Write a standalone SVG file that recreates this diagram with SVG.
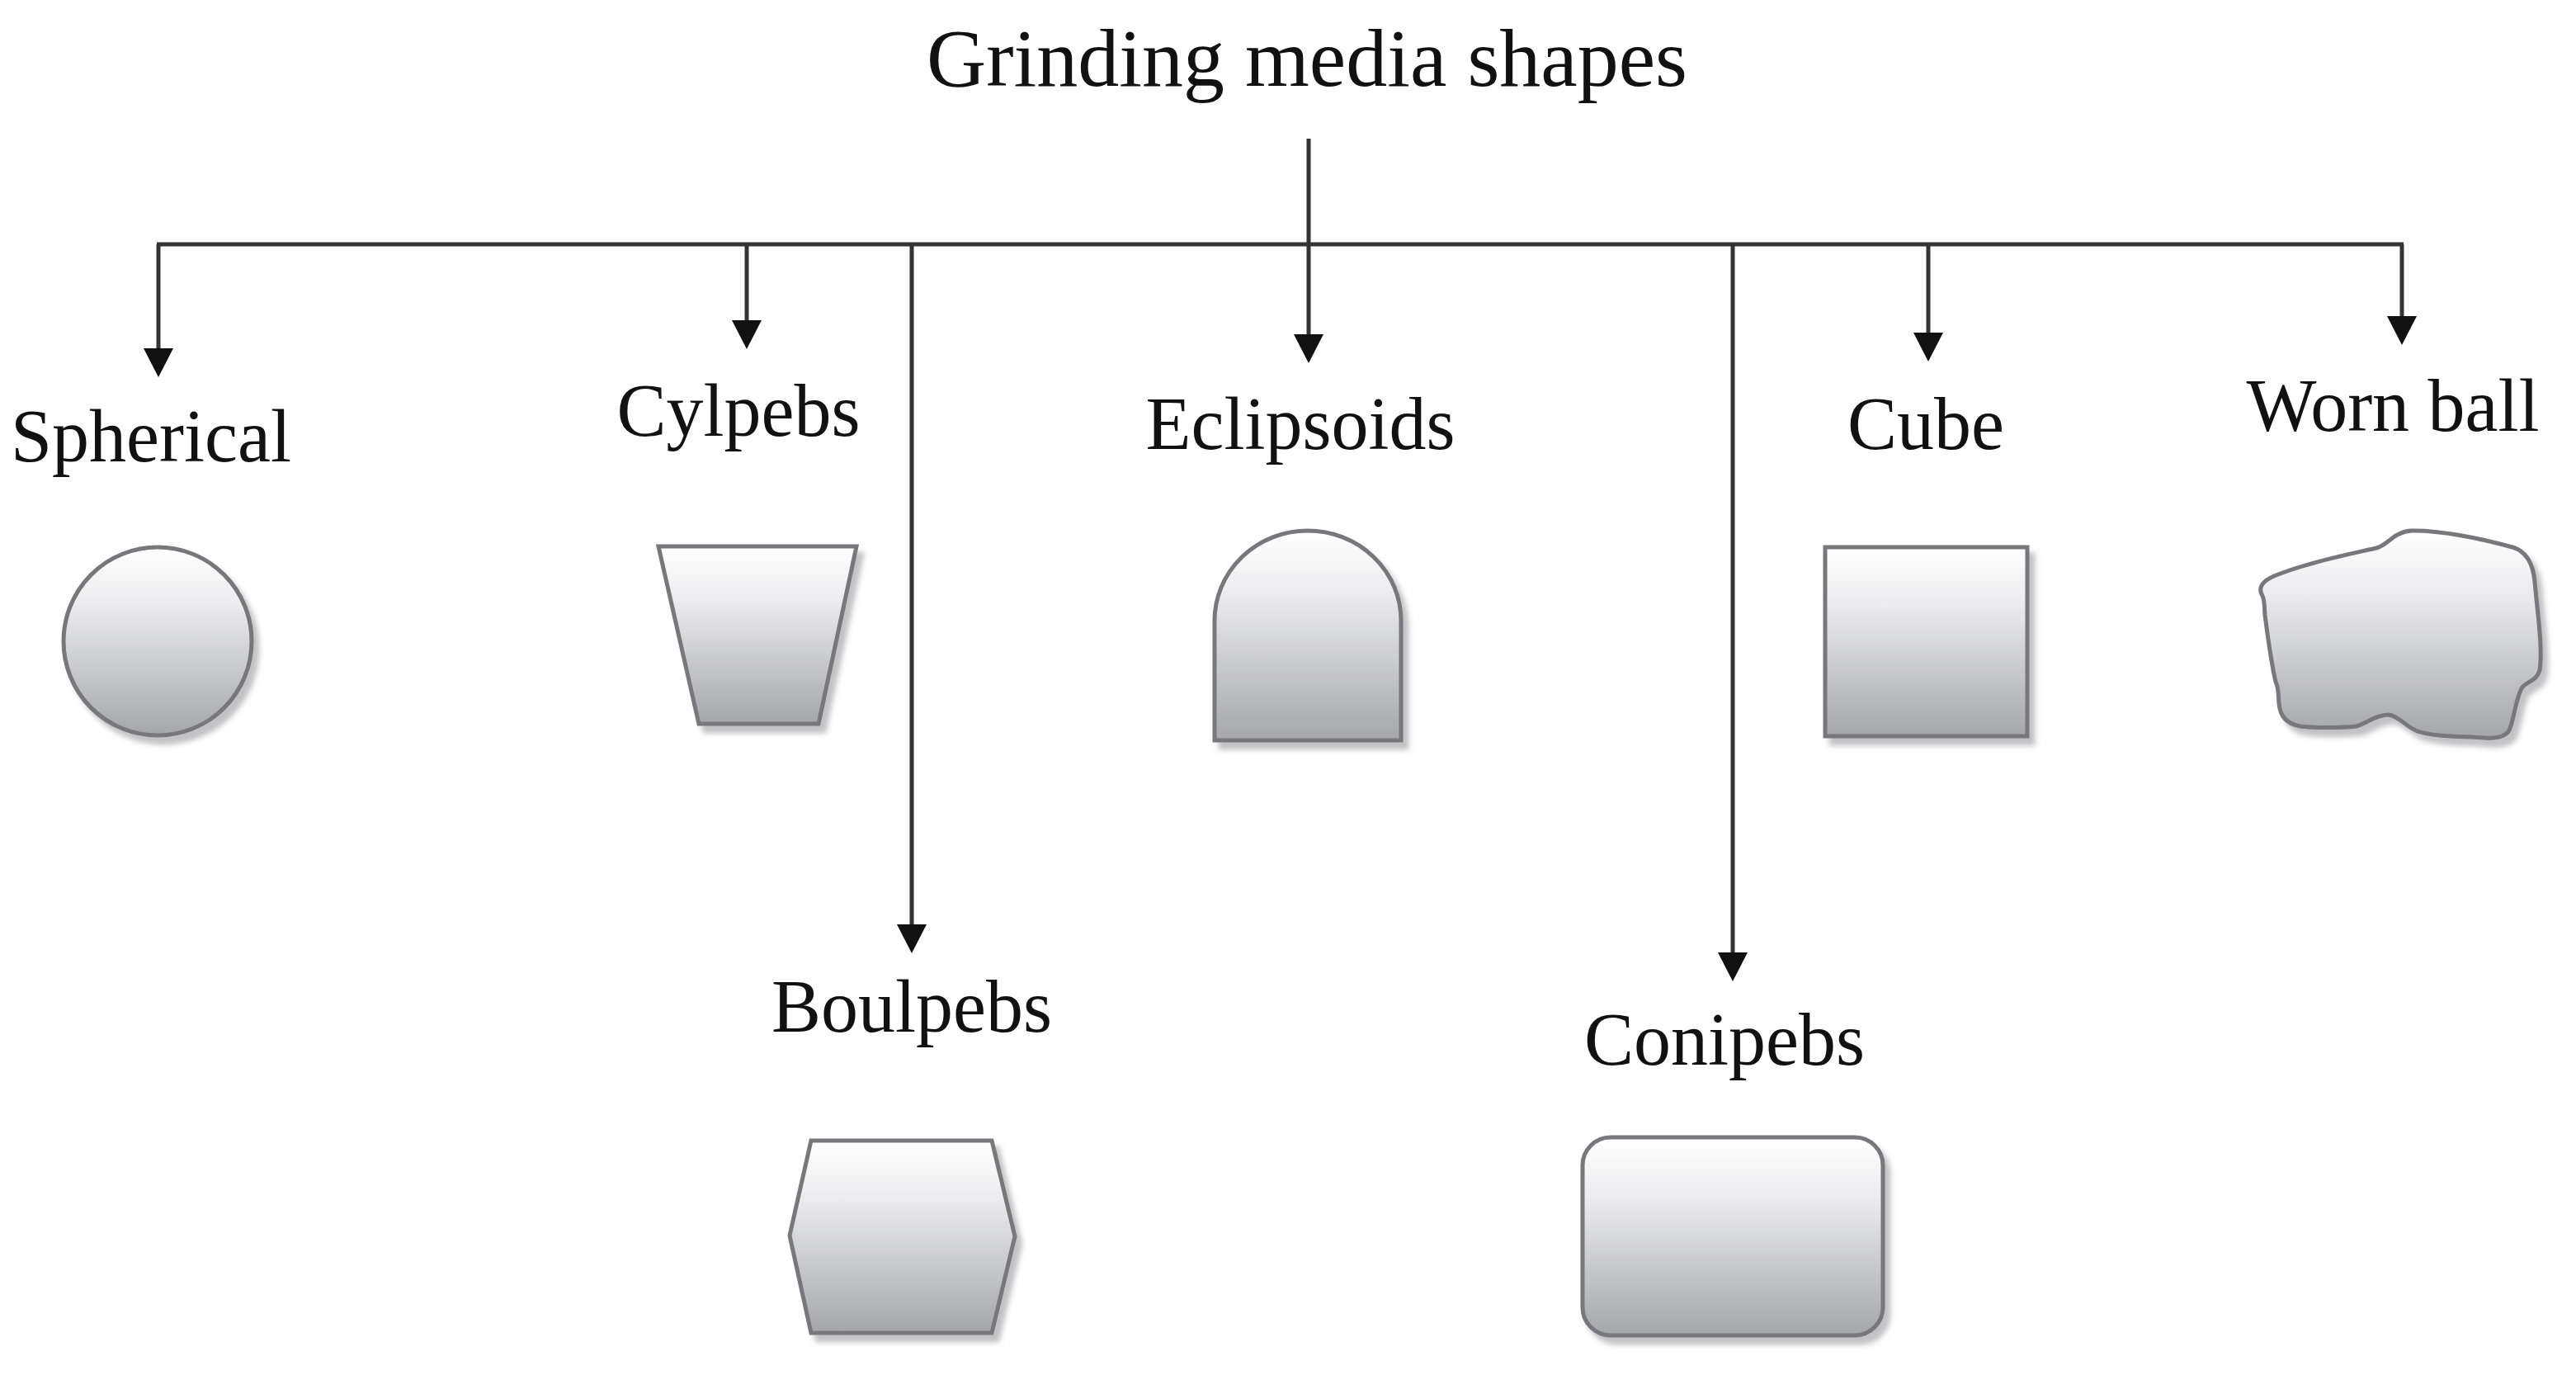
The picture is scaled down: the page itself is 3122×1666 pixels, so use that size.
<svg xmlns="http://www.w3.org/2000/svg" width="3122" height="1666" viewBox="0 0 3122 1666">
<style>
.lbl{font-family:"Liberation Serif","Times New Roman",serif;font-size:90px;fill:#111;text-anchor:middle}
.title{font-family:"Liberation Serif","Times New Roman",serif;font-size:100px;fill:#111;text-anchor:middle}
.conn{stroke:#333;stroke-width:5;fill:none}
.shape{fill:url(#grad);stroke:#77777c;stroke-width:5;filter:url(#shadow)}
</style>
<defs>
<linearGradient id="grad" x1="0" y1="0" x2="0" y2="1">
<stop offset="0" stop-color="#ffffff"/>
<stop offset="0.3" stop-color="#ececee"/>
<stop offset="1" stop-color="#a5a6aa"/>
</linearGradient>
<filter id="shadow" x="-20%" y="-20%" width="150%" height="150%">
<feDropShadow dx="7" dy="9" stdDeviation="3" flood-color="#9a9a9e" flood-opacity="0.6"/>
</filter>
</defs>
<rect width="3122" height="1666" fill="#ffffff"/>

<text class="title" x="1584" y="104">Grinding media shapes</text>

<g id="connectors">
<line class="conn" x1="1586" y1="168" x2="1586" y2="296"/>
<line class="conn" x1="190" y1="296" x2="2913" y2="296"/>
<line class="conn" x1="192" y1="296" x2="192" y2="422"/><path d="M174,422 L210,422 L192,457 Z" fill="#111"/>
<line class="conn" x1="905" y1="296" x2="905" y2="388"/><path d="M887,388 L923,388 L905,423 Z" fill="#111"/>
<line class="conn" x1="1105" y1="296" x2="1105" y2="1120"/><path d="M1087,1120 L1123,1120 L1105,1155 Z" fill="#111"/>
<line class="conn" x1="1586" y1="296" x2="1586" y2="405"/><path d="M1568,405 L1604,405 L1586,440 Z" fill="#111"/>
<line class="conn" x1="2100" y1="296" x2="2100" y2="1154"/><path d="M2082,1154 L2118,1154 L2100,1189 Z" fill="#111"/>
<line class="conn" x1="2337" y1="296" x2="2337" y2="403"/><path d="M2319,403 L2355,403 L2337,438 Z" fill="#111"/>
<line class="conn" x1="2911" y1="296" x2="2911" y2="383"/><path d="M2893,383 L2929,383 L2911,418 Z" fill="#111"/>
</g>

<g id="spherical">
<text class="lbl" x="183" y="559">Spherical</text>
<circle class="shape" cx="191" cy="777" r="114"/>
</g>

<g id="cylpebs">
<text class="lbl" x="895" y="528">Cylpebs</text>
<polygon class="shape" points="798,662 1038,662 992,877 847,877"/>
</g>

<g id="eclipsoids">
<text class="lbl" x="1576" y="544">Eclipsoids</text>
<path class="shape" d="M1472,897 L1472,752 A113,109 0 0 1 1698,752 L1698,897 Z"/>
</g>

<g id="cube">
<text class="lbl" x="2334" y="544">Cube</text>
<rect class="shape" x="2212" y="663" width="245" height="229"/>
</g>

<g id="worn-ball">
<text class="lbl" x="2900" y="522">Worn ball</text>
<path class="shape" d="M2742,722 C2736,712 2742,704 2756,698 C2795,682 2845,672 2880,664 C2895,660 2900,645 2922,643 C2955,642 3005,652 3045,663 C3062,668 3070,682 3072,705 C3075,740 3082,785 3078,812 C3074,826 3062,825 3056,834 C3048,850 3047,872 3041,885 C3036,893 3026,895 3012,894 C2985,892 2950,893 2930,886 C2915,880 2908,868 2895,866 C2880,866 2868,876 2856,880 C2835,882 2805,882 2788,880 C2770,877 2763,866 2762,852 C2761,842 2762,834 2758,826 C2752,800 2748,768 2745,745 C2744,735 2745,728 2742,722 Z"/>
</g>

<g id="boulpebs">
<text class="lbl" x="1105" y="1250">Boulpebs</text>
<polygon class="shape" points="983,1382 1202,1382 1230,1498 1202,1615 983,1615 957,1497"/>
</g>

<g id="conipebs">
<text class="lbl" x="2090" y="1290">Conipebs</text>
<rect class="shape" x="1918" y="1378" width="364" height="240" rx="34" ry="34"/>
</g>
</svg>
